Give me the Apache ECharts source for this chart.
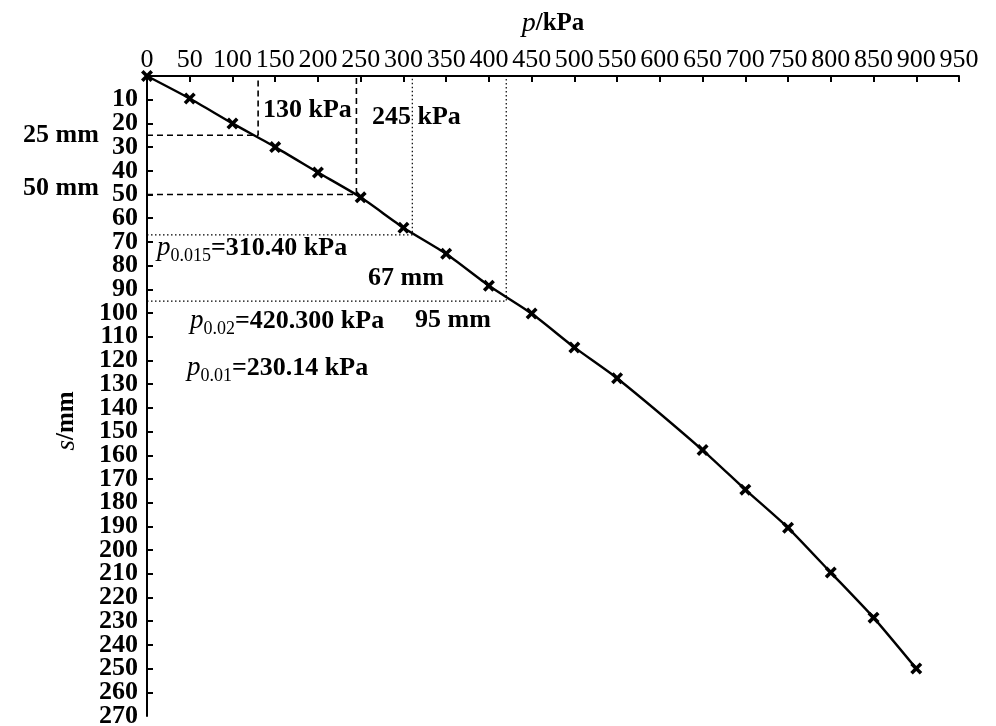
<!DOCTYPE html>
<html><head><meta charset="utf-8">
<script src="https://cdn.jsdelivr.net/npm/echarts@6/dist/echarts.min.js"></script>
<style>html,body{margin:0;padding:0;background:#fff}#c{width:996px;height:726px}</style>
</head><body><div id="c"></div><script>
// Load p (kPa) and settlement s (mm)
const pressure   = [0, 50, 100, 150, 200, 250, 300, 350, 400, 450, 500, 550, 650, 700, 750, 800, 850, 900];
const settlement = [0, 9.5, 20, 30, 40.7, 51.2, 64, 75, 88.5, 100.2, 114.5, 127.5, 157.8, 174.5, 190.6, 209.5, 228.5, 250];
// axis ranges
const xMin = 0, xMax = 950, xStep = 50;
const yMin = 0, yMax = 270, yStep = 10;
// guide lines [p, s]
const dashedGuides = [[130, 25], [245, 50]];
const dottedGuides = [[310.4, 67], [420.3, 95]];

const FONT = 'Liberation Serif';
const GRID = {left: 147, right: 37, top: 76, bottom: 10};
const chart = echarts.init(document.getElementById('c'), null, {renderer: 'canvas'});
const gridWidth = 996 - GRID.left - GRID.right;

const crossPath = 'path://M0,2.1L2.1,0L5,2.9L7.9,0L10,2.1L7.1,5L10,7.9L7.9,10L5,7.1L2.1,10L0,7.9L2.9,5Z';

function guideSeries(g, type) {
  return {
    type: 'line', silent: true, symbol: 'none', clip: false, z: 1,
    data: [[xMin, g[1]], [g[0], g[1]], [g[0], yMin]],
    lineStyle: {color: '#000', width: type === 'dashed' ? 1.6 : 1.2,
      type: type === 'dashed' ? [6, 4] : [1.5, 2.5]},
    animation: false
  };
}

const series = [
  {
    type: 'line', data: pressure.map((p, i) => [p, settlement[i]]),
    symbol: crossPath, symbolSize: 12, clip: false, z: 5,
    itemStyle: {color: '#000'},
    lineStyle: {color: '#000', width: 2.4},
    smooth: 0.2, animation: false
  }
];
dashedGuides.forEach(g => series.push(guideSeries(g, 'dashed')));
dottedGuides.forEach(g => series.push(guideSeries(g, 'dotted')));

const rich = {
  i: {fontFamily: FONT, fontSize: 27, fontStyle: 'italic', color: '#000', verticalAlign: 'middle', lineHeight: 34},
  s: {fontFamily: FONT, fontSize: 18, color: '#000', verticalAlign: 'bottom', lineHeight: 34},
  b: {fontFamily: FONT, fontSize: 26, fontWeight: 'bold', color: '#000', verticalAlign: 'middle', lineHeight: 34}
};
function txt(text, x, y, align) {
  return {type: 'text', x: x, y: y, z: 10, silent: true,
    style: {text: text, font: 'bold 26px "' + FONT + '"', fill: '#000',
      align: align || 'left', verticalAlign: 'middle', rich: rich}};
}
const yLabelText = {fontFamily: FONT, fontSize: 26, fontWeight: 'bold', color: '#000'};

const option = {
  backgroundColor: '#fff',
  animation: false,
  grid: Object.assign({containLabel: false, outerBoundsMode: 'none'}, GRID),
  xAxis: {
    type: 'value', position: 'top', min: xMin, max: xMax, interval: xStep,
    name: '{i|p}{b|/kPa}', nameLocation: 'middle', nameGap: 38,
    nameTextStyle: {rich: {
      i: {fontFamily: FONT, fontSize: 28, fontStyle: 'italic', color: '#000'},
      b: {fontFamily: FONT, fontSize: 25, fontWeight: 'bold', color: '#000'}}},
    axisLine: {show: true, lineStyle: {color: '#000', width: 2}},
    axisTick: {show: true, inside: true, length: 6, lineStyle: {color: '#000', width: 2}},
    axisLabel: {fontFamily: FONT, fontSize: 26, color: '#000', margin: 3, interval: 0, hideOverlap: false,
      showMinLabel: true, showMaxLabel: true},
    splitLine: {show: false}
  },
  yAxis: [{
    type: 'value', position: 'left', inverse: true, min: yMin, max: yMax, interval: yStep,
    axisLine: {show: true, lineStyle: {color: '#000', width: 2}},
    axisTick: {show: true, inside: true, length: 6, lineStyle: {color: '#000', width: 2}},
    axisLabel: Object.assign({margin: 9, showMinLabel: false, showMaxLabel: false, interval: 0, hideOverlap: false}, yLabelText),
    splitLine: {show: false}
  }, {
    // second copy of the same scale, only to print the last tick label
    type: 'value', position: 'right', offset: -gridWidth, inverse: true, min: yMin, max: yMax, interval: yStep,
    axisLine: {show: false}, axisTick: {show: false}, splitLine: {show: false},
    axisLabel: Object.assign({inside: true, margin: 9, customValues: [yMax], hideOverlap: false}, yLabelText)
  }],
  graphic: [
    {type: 'text', x: 67, y: 421, rotation: Math.PI / 2, silent: true,
      style: {text: '{i|s}{b|/mm}', align: 'center', verticalAlign: 'middle', rich: {
        i: {fontFamily: FONT, fontSize: 27, fontStyle: 'italic', color: '#000'},
        b: {fontFamily: FONT, fontSize: 25, fontWeight: 'bold', color: '#000'}}}},
    txt('{b|130 kPa}', 263, 110),
    txt('{b|245 kPa}', 372, 117),
    txt('{b|25 mm}', 23, 135),
    txt('{b|50 mm}', 23, 188),
    txt('{i|p}{s|0.015}{b|=310.40 kPa}', 157, 248),
    txt('{b|67 mm}', 368, 278),
    txt('{i|p}{s|0.02}{b|=420.300 kPa}', 190, 321),
    txt('{b|95 mm}', 415, 320),
    txt('{i|p}{s|0.01}{b|=230.14 kPa}', 187, 368)
  ],
  series: series
};
chart.setOption(option);
</script></body></html>
